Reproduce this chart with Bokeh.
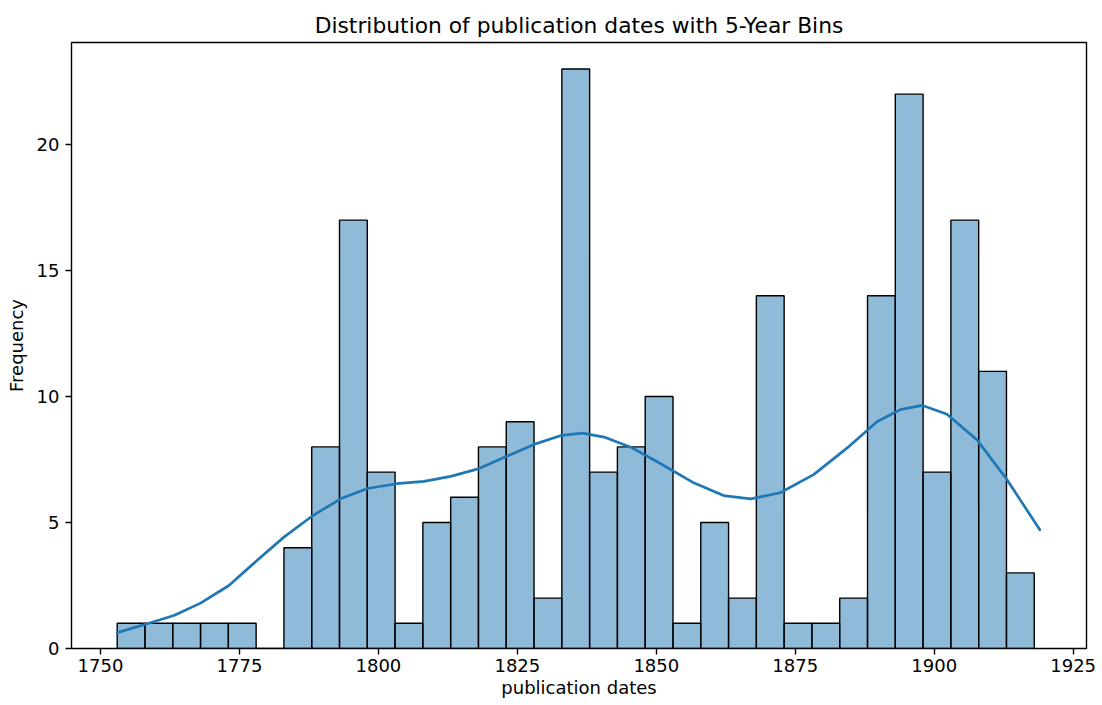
from bokeh.plotting import figure
from bokeh.models import FixedTicker, Range1d
from bokeh.embed import file_html
from bokeh.resources import INLINE

# Histogram data (5-year bins starting 1753)
bin_start = 1753
bin_width = 5
counts = [1, 1, 1, 1, 1, 0, 4, 8, 17, 7, 1, 5, 6, 8, 9, 2, 23, 7, 8, 10,
          1, 5, 2, 14, 1, 1, 2, 14, 22, 7, 17, 11, 3]

# KDE curve
kde_years = [1753.0, 1758.1, 1763.2, 1768.0, 1773.1, 1778.2, 1783.0, 1788.1,
             1793.2, 1798.0, 1803.3, 1808.2, 1813.0, 1818.1, 1823.2, 1828.0,
             1833.0, 1836.7, 1840.6, 1845.4, 1850.8, 1856.5, 1862.1, 1867.0,
             1872.3, 1878.3, 1884.3, 1889.7, 1893.9, 1897.8, 1902.3, 1907.7,
             1913.1, 1919.0]
kde_vals = [0.63, 0.96, 1.31, 1.8, 2.5, 3.5, 4.42, 5.26,
            5.94, 6.35, 6.54, 6.63, 6.83, 7.14, 7.64, 8.1,
            8.46, 8.55, 8.39, 7.99, 7.33, 6.6, 6.07, 5.94,
            6.18, 6.9, 7.95, 9.0, 9.48, 9.65, 9.3, 8.28,
            6.7, 4.71]

x_ticks = [1750, 1775, 1800, 1825, 1850, 1875, 1900, 1925]
y_ticks = [0, 5, 10, 15, 20]

lefts = [bin_start + i * bin_width for i in range(len(counts))]
rights = [l + bin_width for l in lefts]

FONT = "DejaVu Sans"

p = figure(width=1102, height=705, output_backend="svg", toolbar_location=None,
           title="Distribution of publication dates with 5-Year Bins",
           x_axis_label="publication dates", y_axis_label="Frequency",
           x_range=Range1d(1744.78, 1927.4), y_range=Range1d(0, 24.05),
           min_border_left=71, min_border_right=16, min_border_top=42,
           min_border_bottom=57)

p.quad(left=lefts, right=rights, bottom=0, top=counts,
       fill_color="#1f77b4", fill_alpha=0.5, line_color="black", line_width=1.4)
p.line(kde_years, kde_vals, line_color="#1f77b4", line_width=2.7,
       line_join="round", line_cap="round")

p.grid.visible = False
p.outline_line_color = "black"
p.outline_line_width = 1.4
p.background_fill_color = "white"
p.border_fill_color = "white"

p.title.align = "center"
p.title.text_font = FONT
p.title.text_font_size = "21.8px"
p.title.text_font_style = "normal"
p.title.text_color = "black"
p.title.offset = 0
p.title.standoff = 10

for ax in [p.xaxis[0], p.yaxis[0]]:
    ax.axis_line_color = None
    ax.major_tick_line_color = "black"
    ax.major_tick_line_width = 1.4
    ax.major_tick_out = 6
    ax.major_tick_in = 0
    ax.minor_tick_line_color = None
    ax.major_label_text_font = FONT
    ax.major_label_text_font_size = "18px"
    ax.major_label_text_color = "black"
    ax.axis_label_text_font = FONT
    ax.axis_label_text_font_size = "18px"
    ax.axis_label_text_font_style = "normal"
    ax.axis_label_text_color = "black"

p.xaxis.ticker = FixedTicker(ticks=x_ticks)
p.yaxis.ticker = FixedTicker(ticks=y_ticks)
p.xaxis.major_label_standoff = 4
p.yaxis.major_label_standoff = 6
p.xaxis.axis_label_standoff = 2
p.yaxis.axis_label_standoff = 7

open("out.html", "w").write(file_html(p, INLINE))
